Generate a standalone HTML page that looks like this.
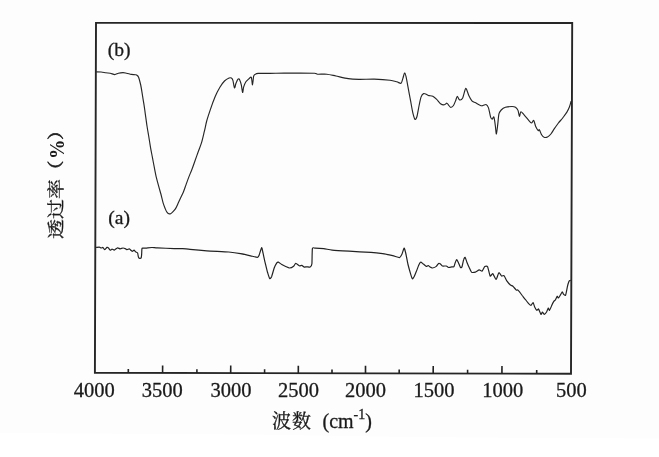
<!DOCTYPE html>
<html><head><meta charset="utf-8"><title>IR</title>
<style>
html,body{margin:0;padding:0;background:#fdfdfd;}
body{width:659px;height:457px;overflow:hidden;position:relative;}
svg{position:absolute;left:0;top:0;display:block;}
text{font-family:"Liberation Serif","Noto Serif CJK SC",serif;fill:#1a1a1a;}
.cjk{font-family:"Noto Serif CJK SC","Liberation Serif",serif;}
</style></head><body>
<svg width="659" height="457" viewBox="0 0 659 457">
<rect x="0" y="0" width="659" height="457" fill="#fdfdfd"/>
<polygon points="0,433 250,434.4 410,437 659,438.6 659,457 0,457" fill="#ffffff"/>
<polygon points="96.0,22.9 572.2,22.95 571.0,373.75 94.9,372.75" fill="none" stroke="#262626" stroke-width="1.9" stroke-linejoin="miter"/>
<g stroke="#222" stroke-width="1.6">
<line x1="128.30" y1="372.82" x2="128.31" y2="369.02"/>
<line x1="162.60" y1="372.89" x2="162.62" y2="365.39"/>
<line x1="196.90" y1="372.96" x2="196.91" y2="369.16"/>
<line x1="230.70" y1="373.04" x2="230.72" y2="365.54"/>
<line x1="264.60" y1="373.11" x2="264.61" y2="369.31"/>
<line x1="298.30" y1="373.18" x2="298.32" y2="365.68"/>
<line x1="332.00" y1="373.25" x2="332.01" y2="369.45"/>
<line x1="365.50" y1="373.32" x2="365.52" y2="365.82"/>
<line x1="399.20" y1="373.39" x2="399.21" y2="369.59"/>
<line x1="433.20" y1="373.46" x2="433.22" y2="365.96"/>
<line x1="467.60" y1="373.53" x2="467.61" y2="369.73"/>
<line x1="501.95" y1="373.60" x2="501.97" y2="366.10"/>
<line x1="536.70" y1="373.68" x2="536.71" y2="369.88"/>
</g>
<path fill="none" stroke="#262626" stroke-width="1.15" stroke-linejoin="round" d="M96.2,71.8C96.9,71.8 99.8,71.9 101.1,72.0C102.4,72.1 104.5,72.6 105.7,72.8C106.9,73.0 109.0,73.0 110.2,73.2C111.4,73.4 113.7,74.6 114.8,74.6C115.9,74.6 117.3,73.5 118.4,73.2C119.5,72.9 121.9,72.6 123.0,72.6C124.1,72.6 125.5,73.0 126.6,73.2C127.7,73.4 130.1,74.2 131.2,74.4C132.3,74.6 134.5,74.6 135.2,74.7C135.9,74.8 136.1,74.7 136.6,75.0C137.1,75.3 138.1,75.9 138.6,77.2C139.1,78.5 140.1,82.3 140.6,84.5C141.1,86.7 141.8,91.1 142.2,93.7C142.6,96.3 143.4,101.2 143.9,104.2C144.4,107.2 145.2,113.2 145.6,116.1C146.0,119.0 146.6,123.4 147.0,126.0C147.4,128.6 148.1,132.6 148.6,135.5C149.1,138.4 150.0,144.4 150.5,147.4C151.0,150.4 152.0,155.1 152.5,157.9C153.0,160.7 154.0,165.8 154.5,168.4C155.0,171.0 155.8,175.2 156.4,177.6C157.0,180.0 158.2,184.4 158.8,186.6C159.3,188.8 160.3,191.8 160.9,194.0C161.5,196.2 162.5,200.8 163.1,202.8C163.7,204.8 164.8,207.6 165.3,208.9C165.8,210.2 166.6,211.8 167.1,212.4C167.6,213.0 168.3,213.5 168.8,213.7C169.3,213.9 170.1,213.9 170.6,213.7C171.1,213.5 172.2,212.5 172.8,211.9C173.4,211.3 174.7,210.0 175.4,208.9C176.1,207.8 177.4,204.9 178.0,203.6C178.6,202.3 179.5,200.3 180.2,198.8C180.9,197.3 182.5,194.0 183.3,192.2C184.1,190.4 185.2,187.0 185.9,185.1C186.6,183.2 187.8,179.7 188.6,177.6C189.4,175.5 190.9,172.0 191.8,169.7C192.7,167.4 194.2,163.0 195.1,160.5C196.0,158.0 197.5,153.8 198.4,151.3C199.3,148.8 200.9,144.8 201.7,142.1C202.5,139.4 203.7,134.0 204.4,131.2C205.1,128.4 205.9,124.0 206.7,121.0C207.5,118.0 209.6,111.9 210.7,108.6C211.8,105.3 214.1,99.2 215.3,96.3C216.5,93.4 218.7,89.2 219.9,87.2C221.1,85.2 223.3,82.2 224.5,81.0C225.7,79.8 228.2,78.4 229.1,78.0C230.0,77.6 230.9,77.7 231.4,78.0C231.9,78.3 232.5,79.0 232.9,80.3C233.3,81.6 234.1,87.5 234.5,87.9C234.9,88.3 235.5,84.5 236.0,83.3C236.5,82.1 237.5,79.7 238.0,79.2C238.5,78.7 239.1,78.7 239.5,79.5C239.9,80.3 240.9,83.2 241.3,84.9C241.7,86.6 242.3,92.2 242.6,92.5C242.9,92.8 243.2,88.6 243.6,87.2C244.0,85.8 245.2,82.9 245.9,81.8C246.6,80.7 248.3,79.3 249.0,78.7C249.7,78.1 250.8,76.4 251.3,77.2C251.8,78.0 252.2,85.0 252.5,84.9C252.8,84.8 253.3,77.8 253.6,76.4C253.9,75.0 254.5,74.8 255.1,74.4C255.7,74.0 256.4,73.5 258.2,73.4C260.0,73.3 265.4,73.4 268.9,73.4C272.4,73.4 280.1,73.1 284.2,73.1C288.3,73.1 296.0,73.1 300.0,73.1C304.0,73.1 312.2,73.2 314.5,73.3C316.8,73.4 316.0,74.1 317.6,74.2C319.2,74.3 324.4,74.0 326.8,74.2C329.2,74.4 333.0,75.4 335.9,76.0C338.8,76.6 345.1,78.1 348.2,78.6C351.3,79.1 355.4,79.3 358.9,79.4C362.4,79.5 370.1,79.0 374.2,79.1C378.3,79.2 387.0,79.8 390.0,80.2C393.0,80.6 395.3,81.4 396.8,81.8C398.3,82.2 400.3,83.8 401.1,83.3C401.9,82.8 402.5,79.4 403.0,78.0C403.5,76.6 404.1,73.3 404.5,73.1C404.9,72.9 405.5,74.3 406.0,76.4C406.5,78.5 407.7,85.4 408.3,88.7C408.9,92.0 410.0,97.6 410.6,100.9C411.2,104.2 412.3,110.7 412.9,113.2C413.5,115.7 414.4,118.8 414.9,119.3C415.4,119.8 416.2,118.8 416.8,117.0C417.4,115.2 418.5,108.2 419.1,105.5C419.7,102.8 420.4,98.7 421.0,97.1C421.6,95.5 422.8,93.9 423.6,93.6C424.4,93.3 426.0,94.2 426.7,94.5C427.4,94.8 428.2,95.4 429.0,95.6C429.8,95.8 431.8,95.8 432.8,96.3C433.8,96.8 435.7,98.4 436.7,99.4C437.7,100.4 439.5,103.0 440.5,103.7C441.5,104.4 443.4,104.9 444.3,104.8C445.2,104.7 446.3,103.1 446.9,103.2C447.5,103.3 448.4,104.9 448.9,105.5C449.4,106.1 450.2,107.4 450.8,107.4C451.4,107.4 452.8,106.5 453.5,105.5C454.2,104.5 455.3,101.4 455.8,100.2C456.3,99.0 456.8,96.3 457.3,96.3C457.8,96.3 458.9,99.7 459.6,99.9C460.3,100.1 461.9,99.4 462.7,97.9C463.5,96.4 465.0,88.7 465.8,88.4C466.6,88.1 468.0,93.9 468.8,95.6C469.6,97.3 471.0,99.9 471.9,100.9C472.8,101.9 474.4,102.1 475.7,102.8C477.0,103.5 480.4,105.6 481.8,105.8C483.2,106.0 485.1,104.2 486.0,104.5C486.9,104.8 487.9,106.2 488.5,107.9C489.1,109.6 490.1,115.6 490.6,117.1C491.1,118.6 491.8,119.1 492.2,119.1C492.6,119.1 493.5,116.2 493.9,117.1C494.3,118.0 495.0,123.2 495.3,125.5C495.6,127.8 496.1,134.2 496.4,134.0C496.7,133.8 497.5,126.6 497.8,123.9C498.1,121.2 498.5,115.6 499.0,113.7C499.5,111.8 500.3,110.9 501.2,110.0C502.1,109.1 503.9,107.8 505.4,107.3C506.9,106.8 510.8,106.5 512.1,106.5C513.4,106.5 514.7,106.8 515.5,107.3C516.3,107.8 517.5,109.2 518.0,110.4C518.5,111.6 519.0,116.1 519.4,116.3C519.8,116.5 520.3,111.9 520.9,111.7C521.5,111.5 522.9,113.5 523.9,114.6C524.9,115.7 527.1,118.5 528.1,119.6C529.1,120.7 530.8,122.9 531.5,123.0C532.2,123.1 533.1,120.0 533.7,120.5C534.3,121.0 535.1,125.1 535.7,126.4C536.3,127.7 537.7,130.1 538.2,130.6C538.7,131.1 538.9,129.2 539.4,129.8C539.9,130.4 541.0,133.8 541.6,134.8C542.2,135.8 543.3,137.0 544.1,137.3C544.9,137.6 546.6,137.4 547.5,137.0C548.4,136.6 550.0,135.1 550.9,134.0C551.8,132.9 553.2,130.4 554.2,128.9C555.2,127.4 557.3,124.5 558.4,123.0C559.5,121.5 561.6,119.5 562.7,118.0C563.8,116.5 566.0,113.6 566.9,112.1C567.8,110.6 568.8,108.5 569.4,107.0C570.0,105.5 570.9,101.9 571.1,101.1"/>
<path fill="none" stroke="#222" stroke-width="1.2" stroke-linejoin="round" d="M96.1,247.4C96.4,247.4 98.8,247.0 99.3,247.1C99.8,247.2 100.7,248.0 101.1,248.0C101.5,248.0 102.6,247.2 102.9,247.4C103.2,247.6 104.2,249.7 104.6,249.7C105.0,249.7 106.6,247.6 107.0,247.4C107.4,247.2 108.1,247.5 108.4,247.8C108.7,248.1 109.8,250.0 110.2,250.1C110.6,250.2 111.6,249.2 112.0,249.2C112.4,249.2 113.8,250.2 114.3,250.1C114.8,250.0 116.9,247.9 117.5,247.8C118.1,247.7 119.7,248.8 120.2,248.8C120.8,248.8 122.5,248.0 123.0,248.0C123.5,248.0 125.3,248.7 125.7,248.9C126.1,249.1 126.7,249.7 127.1,249.7C127.5,249.7 128.9,248.7 129.3,248.8C129.7,248.9 130.9,250.3 131.2,250.6C131.5,250.8 132.2,251.4 132.5,251.3C132.8,251.2 133.8,250.0 134.1,250.1C134.4,250.2 135.4,251.6 135.7,251.9C136.0,252.2 137.2,252.3 137.5,252.8C137.8,253.3 138.2,256.1 138.3,256.6C138.4,257.1 138.8,257.8 138.9,258.0C139.0,258.2 139.4,258.3 139.6,258.3C139.8,258.3 140.4,258.4 140.6,258.3C140.8,258.2 141.1,258.1 141.2,257.8C141.3,257.5 141.5,255.9 141.6,255.0C141.7,254.1 141.8,249.5 141.9,248.8C142.0,248.1 142.5,248.2 143.0,248.1C143.5,248.0 145.7,248.2 146.6,248.1C147.5,248.0 150.9,247.5 152.0,247.5C153.1,247.5 155.2,247.8 157.4,247.9C159.6,248.0 171.7,248.5 174.2,248.6C176.7,248.7 181.1,248.5 182.7,248.6C184.3,248.7 187.6,249.2 190.0,249.4C192.4,249.6 202.9,250.5 206.8,250.8C210.7,251.1 225.3,251.7 228.7,252.0C232.1,252.3 238.3,253.2 240.5,253.6C242.7,254.0 248.9,255.4 250.6,255.8C252.3,256.2 256.5,257.4 257.4,257.3C258.2,257.2 258.7,256.3 259.1,255.3C259.5,254.3 261.2,248.0 261.6,247.7C262.0,247.4 262.5,250.6 262.8,252.0C263.1,253.4 264.5,260.1 265.0,262.1C265.5,264.1 267.0,270.6 267.5,272.2C268.0,273.8 269.3,278.2 269.7,278.6C270.1,279.0 271.2,277.5 271.7,276.4C272.1,275.3 273.7,269.4 274.2,268.0C274.7,266.6 276.4,263.5 276.8,262.9C277.2,262.3 277.9,261.9 278.4,262.1C278.9,262.3 281.1,264.2 281.8,264.6C282.5,265.0 284.4,266.0 285.2,266.3C286.0,266.6 288.6,268.0 289.4,268.0C290.2,268.0 293.0,266.8 293.6,266.3C294.2,265.8 295.2,263.4 295.8,263.4C296.4,263.3 298.7,265.6 299.3,265.8C299.9,266.0 301.3,265.3 301.8,265.4C302.3,265.5 303.8,267.0 304.3,267.1C304.8,267.2 306.2,266.8 306.8,266.8C307.4,266.8 309.7,267.4 310.2,267.1C310.7,266.8 311.7,265.6 311.9,263.7C312.1,261.8 312.1,250.2 312.4,248.6C312.7,247.0 314.2,248.2 315.3,248.2C316.4,248.2 322.0,248.4 323.7,248.6C325.4,248.8 329.6,249.8 332.1,250.1C334.6,250.4 345.1,251.0 349.0,251.2C352.9,251.4 367.5,252.2 370.9,252.4C374.3,252.6 380.5,253.3 382.7,253.6C384.9,253.9 391.0,255.3 392.7,255.7C394.4,256.1 398.6,257.7 399.5,257.6C400.4,257.5 401.3,255.4 401.8,254.5C402.3,253.6 403.7,248.2 404.1,248.1C404.5,247.9 405.3,251.4 405.7,253.0C406.1,254.6 407.5,262.5 408.0,264.5C408.5,266.5 409.9,271.5 410.3,272.9C410.7,274.3 411.9,278.3 412.3,278.7C412.7,279.1 413.7,277.4 414.1,276.7C414.5,276.0 415.9,272.4 416.4,271.3C416.9,270.2 418.3,266.1 418.7,265.2C419.1,264.3 420.2,262.3 420.7,262.2C421.2,262.1 422.7,263.6 423.3,264.0C423.9,264.4 425.8,266.2 426.3,266.4C426.8,266.5 427.8,265.4 428.2,265.5C428.6,265.6 429.8,266.9 430.2,267.1C430.6,267.4 431.9,268.1 432.5,268.0C433.1,267.9 435.7,266.9 436.3,266.4C436.9,265.9 438.2,263.7 438.6,263.4C439.0,263.1 439.7,263.4 440.1,263.7C440.5,264.0 441.8,265.8 442.4,266.0C443.0,266.2 445.7,265.9 446.3,266.0C446.9,266.1 448.0,267.4 448.6,267.5C449.2,267.6 451.9,266.9 452.4,266.8C452.9,266.7 453.6,267.3 453.9,266.8C454.2,266.3 455.1,262.9 455.4,262.2C455.7,261.5 456.4,259.5 456.7,259.6C457.0,259.7 458.1,262.1 458.5,262.9C458.9,263.7 460.1,267.1 460.5,267.5C460.9,267.9 461.7,267.6 462.0,266.8C462.3,266.0 463.3,260.8 463.6,259.9C463.9,258.9 464.8,257.1 465.1,257.3C465.4,257.5 466.5,261.2 466.9,262.2C467.3,263.2 468.7,266.5 469.2,267.5C469.7,268.5 470.9,271.6 471.5,272.1C472.1,272.6 474.6,272.3 475.4,272.1C476.2,271.9 478.5,270.0 479.2,269.9C479.9,269.8 481.5,271.4 482.1,271.1C482.7,270.8 484.2,266.9 484.8,266.5C485.4,266.1 487.1,265.8 487.6,266.8C488.1,267.8 489.7,275.4 490.2,276.1C490.7,276.8 492.1,273.3 492.7,273.6C493.3,273.9 495.5,279.6 496.1,279.5C496.7,279.4 498.3,273.0 498.9,272.7C499.4,272.4 501.1,275.8 501.6,276.1C502.1,276.4 503.5,275.1 504.0,275.6C504.5,276.1 506.4,280.3 507.0,281.2C507.6,282.1 509.8,284.5 510.4,285.0C511.0,285.5 512.3,285.7 512.9,286.2C513.5,286.7 515.8,289.7 516.3,290.1C516.8,290.5 517.4,289.6 518.0,290.1C518.6,290.6 521.5,294.5 522.2,295.5C523.0,296.5 524.8,298.9 525.5,299.7C526.2,300.5 528.3,303.3 528.9,303.9C529.5,304.5 530.7,305.4 531.1,305.3C531.5,305.2 532.7,302.4 533.1,302.6C533.5,302.8 534.4,306.5 534.8,307.3C535.2,308.1 536.4,310.1 536.8,310.3C537.2,310.5 538.1,308.6 538.5,309.0C538.9,309.4 540.6,314.1 541.0,314.4C541.4,314.7 542.1,312.0 542.4,312.0C542.7,312.0 544.0,314.4 544.4,314.4C544.8,314.4 546.2,312.6 546.6,312.0C547.0,311.4 548.0,308.3 548.3,308.1C548.6,307.9 549.2,310.6 549.5,310.3C549.8,310.1 551.3,306.5 551.7,305.6C552.1,304.7 553.4,302.0 553.8,301.4C554.2,300.8 555.2,300.2 555.5,299.7C555.8,299.2 556.9,296.5 557.2,296.3C557.5,296.1 558.1,298.1 558.4,298.0C558.7,297.9 559.7,296.1 560.1,295.5C560.5,294.9 562.0,291.9 562.3,291.8C562.6,291.7 563.1,293.8 563.4,294.1C563.7,294.4 565.2,295.8 565.6,295.1C566.0,294.4 567.0,288.5 567.3,287.1C567.6,285.7 568.7,281.9 569.0,281.2C569.3,280.5 570.5,280.4 570.7,280.3"/>
<g font-size="20px" stroke="#1a1a1a" stroke-width="0.3">
<text x="94.3" y="397" font-size="20.5px" text-anchor="middle">4000</text>
<text x="162.3" y="397" font-size="20.5px" text-anchor="middle">3500</text>
<text x="230.9" y="397" font-size="20.5px" text-anchor="middle">3000</text>
<text x="298.6" y="397" font-size="20.5px" text-anchor="middle">2500</text>
<text x="365.4" y="397" font-size="20.5px" text-anchor="middle">2000</text>
<text x="434.0" y="397" font-size="20.5px" text-anchor="middle">1500</text>
<text x="502.7" y="397" font-size="20.5px" text-anchor="middle">1000</text>
<text x="571.3" y="397" font-size="20.5px" text-anchor="middle">500</text>
<text x="107.7" y="56.4" font-size="19.6px">(b)</text>
<text x="108.3" y="224" font-size="19.6px">(a)</text>
<text x="322.5" y="428">(cm<tspan font-size="14px" dy="-9.5">-1</tspan><tspan dy="9.5">)</tspan></text>
<text class="cjk" x="272" y="427.9" font-size="19px" letter-spacing="1px">波数</text>
<g transform="translate(63,239) rotate(-90)" stroke="#1a1a1a" stroke-width="0.3"><text class="cjk" transform="translate(0,-0.6) scale(1,0.87)">透过率</text>
<text class="cjk" font-size="16.5px" transform="translate(59.4,-0.7) scale(1.15,1)" stroke-width="0.5">（</text>
<text font-family="Liberation Sans,sans-serif" font-weight="bold" font-size="19.5px" stroke="none" transform="translate(80,0.6) scale(1,1.1)">%</text>
<text class="cjk" font-size="16.5px" transform="translate(98.9,-0.7) scale(1.15,1)" stroke-width="0.5">）</text></g>
</g>
</svg>
</body></html>
